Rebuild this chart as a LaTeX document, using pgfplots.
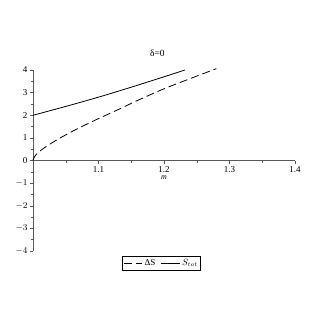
\documentclass[border=0pt]{standalone}
\usepackage{pgfplots}
\pgfplotsset{compat=1.18}
\usepackage{fontspec}
\setmainfont{Liberation Serif}
\begin{document}
\begin{tikzpicture}[x=1pt,y=1pt]
\begin{axis}[
  scale only axis,
  width=262pt, height=181pt,
  xmin=1, xmax=1.4, ymin=-4, ymax=4,
  axis lines=middle,
  hide obscured x ticks=false, hide obscured y ticks=false,
  axis line style={gray!70!black, line width=0.9pt, -},
  xtick={1.1,1.2,1.3,1.4},
  xticklabels={1.1,1.2,1.3,1.4},
  minor xtick={1.05,1.15,1.25,1.35},
  ytick={-4,-3,-2,-1,0,1,2,3,4},
  yticklabels={$-4$,$-3$,$-2$,$-1$,0,1,2,3,4},
  minor ytick={-3.5,-2.5,-1.5,-0.5,0.5,1.5,2.5,3.5},
  tick style={gray!70!black, line width=0.5pt},
  major tick length=3pt, minor tick length=2pt,
  tick align=outside,
  ticklabel style={font=\fontsize{9}{10}\selectfont},
  yticklabel style={xshift=1pt},
  /pgf/number format/assume math mode=true,
  xlabel={\fontsize{8}{9}\selectfont\itshape m},
  xlabel style={at={(axis cs:1.2,0)}, anchor=north, yshift=-12pt},
  title={\fontsize{9.5}{10}\selectfont δ=0},
  title style={at={(axis cs:1.19,4)}, anchor=south, yshift=4pt},
  legend columns=2,
  legend style={at={(0.49,-0.03)}, anchor=north, draw=black, line width=0.6pt,
    font=\fontsize{9}{10}\selectfont, inner sep=1pt,
    /tikz/every even column/.append style={column sep=3pt}},
  legend image post style={xscale=1.1},
  legend cell align=left,
  clip=false,
]
\coordinate (orig) at (axis cs:1,-4);
\addplot[black, line width=0.8pt, dash pattern=on 8pt off 4pt, smooth] coordinates {
(1.000,0) (1.002,0.158) (1.005,0.266) (1.010,0.401) (1.020,0.618)
(1.040,0.973) (1.060,1.286) (1.080,1.576) (1.100,1.852) (1.130,2.25)
(1.160,2.66) (1.200,3.17) (1.240,3.62) (1.280,4.06)};
\addlegendentry{ΔS}
\addplot[black, line width=0.8pt, smooth] coordinates {
(1.000,2.00) (1.050,2.39) (1.100,2.80) (1.150,3.24) (1.200,3.70) (1.232,4.00)};
\addlegendentry{$S_{tot}$}
\end{axis}
\pgfresetboundingbox
\path (orig) ++(-33pt,-76pt) rectangle ++(327pt,327pt);
\end{tikzpicture}
\end{document}
